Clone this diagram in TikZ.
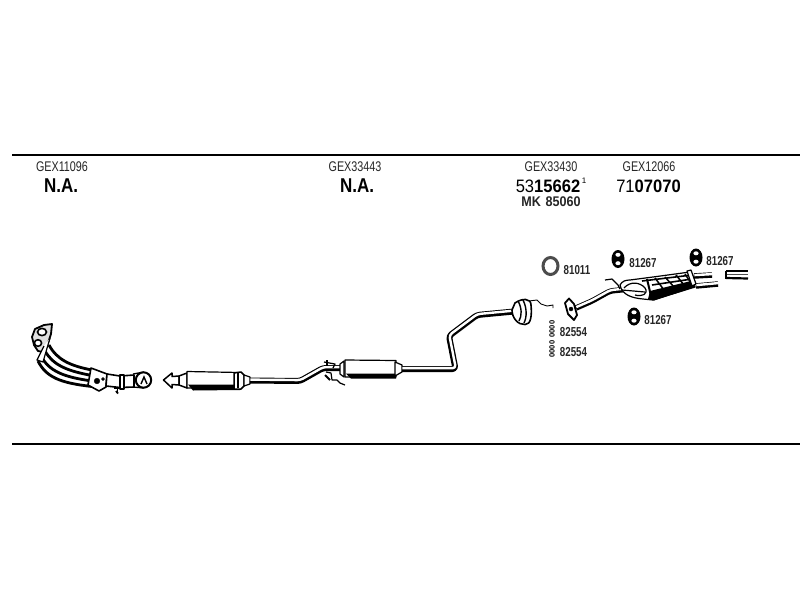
\documentclass[tikz,border=0pt]{standalone}
\usepackage{fontspec}
\setmainfont{Liberation Sans}
\usetikzlibrary{shapes.geometric}
\tikzset{
  part/.style={draw=black,line width=1.2pt,fill=white,line join=round},
  thin part/.style={draw=black,line width=0.9pt,line join=round},
  code/.style={font=\fontsize{14}{14}\selectfont,xscale=.77,inner sep=0pt,text=black!85},
  na/.style={font=\fontsize{20}{20}\selectfont\bfseries,xscale=.85,inner sep=0pt},
  big/.style={font=\fontsize{18}{18}\selectfont,xscale=.92,inner sep=0pt},
  ref/.style={font=\fontsize{13}{13}\selectfont\bfseries,xscale=.75,inner sep=0pt,text=black!85},
  vert/.style={rotate=90,inner sep=0pt,font=\fontsize{7.5}{7.5}\selectfont\bfseries},
  hanger/.style={fill=black,ellipse,inner sep=0pt,minimum width=13pt,minimum height=18pt}
}
% a pipe: dark body, light core set towards its upper edge
\newcommand{\pipeline}[2][6]{%
  \draw[line width=#1pt,black,line join=round,rounded corners=3pt] #2;
  \draw[line width=2.4pt,white,line join=round,rounded corners=3pt,yshift=.9pt,xshift=.3pt] #2;}
\begin{document}
\begin{tikzpicture}[x=1pt,y=-1pt]
\useasboundingbox (0,0) rectangle (800,600);
\fill[white] (0,0) rectangle (800,600);
% frame rules
\coordinate (ruleTL) at (12,155); \coordinate (ruleTR) at (800,155);
\coordinate (ruleBL) at (12,444); \coordinate (ruleBR) at (800,444);
\draw[line width=1.8pt] (ruleTL) -- (ruleTR);
\draw[line width=1.8pt] (ruleBL) -- (ruleBR);
% header texts
\node[code] (c1) at (62,167) {GEX11096};
\node[code] (c2) at (355,167) {GEX33443};
\node[code] (c3) at (551,167) {GEX33430};
\node[code] (c4) at (649,167) {GEX12066};
\node[na] (n1) at (61,186) {N.A.};
\node[na] (n2) at (357,186) {N.A.};
\node[big] (p1) at (548,186) {53\textbf{15662}};
\node[inner sep=0pt,font=\fontsize{8}{8}\selectfont] (p1s) at (584,181) {1};
\node[big] (p2) at (648.5,186) {71\textbf{07070}};
\node[font=\fontsize{14}{14}\selectfont\bfseries,xscale=.9,inner sep=0pt,text=black!85] (mk) at (551,202) {MK\hspace{5pt}85060};
% part numbers
\node[ref] (r1) at (577,270) {81011};
\node[ref] (r2) at (643,263) {81267};
\node[ref] (r3) at (720,261) {81267};
\node[ref] (r4) at (658,320) {81267};
\node[ref] (r5) at (573.5,332) {82554};
\node[ref] (r6) at (573.5,352) {82554};
\node[vert] (b1) at (552,329) {0000};
\node[vert] (b2) at (552,349) {0000};
% --- front pipe with manifold ---
\foreach \ya/\yb/\yc/\xa in {345/360/370/49, 351/365/375.5/45, 356/371/381/41, 361/377/386.5/38}
  \draw[line width=2.8pt] (\xa,\ya) .. controls (\xa+8,\yb) and (\xa+22,\yb+6) .. (92,\yc);
\draw[part,line width=1.8pt,fill=black!12] (32,337) -- (35,329) -- (44,325) -- (52,324) -- (51,334) -- (47,346) -- (43,352) -- (38,351) -- (34,345) -- cycle;
\draw[fill=white,draw=black,line width=1.6pt] (42,332) ellipse (4.5 and 3.6);
\draw[fill=white,draw=black,line width=1.6pt] (38,343) ellipse (3.6 and 3.3);
\draw[part] (50,338) -- (43,362) -- (37,360) -- (44,346);
\draw[part,line width=1.6pt] (91,368) -- (107,374) -- (106,387) -- (99,391) -- (88,385) -- cycle;
\draw[fill=black] (97,381) circle (2.8);
\draw[fill=black] (103,379) circle (1.5);
\draw[part,line width=1.6pt] (107,374) -- (120,376) -- (134,375) -- (134,387) -- (120,387.5) -- (106,386) -- cycle;
\draw[part] (120,375) rectangle (124,389);
\draw[thin part] (117,388) -- (117,393);
\draw[line width=2pt] (114,388) -- (121,388);
\draw[line width=1.8pt] (116,391) -- (118,393.5);
\draw[line width=1.3pt] (133,374) -- (144,372);
\draw[line width=1.3pt] (133,387) -- (144,388);
\draw[part,line width=2pt] (143.5,380) circle (7.7);
\draw[line width=1.4pt] (141,384) -- (144,377) -- (147,384);
% --- middle pipe ---
\draw[part,line width=1.5pt] (163.5,380) -- (172,373) -- (172,376.5) -- (179,376) -- (179,385) -- (172,384.5) -- (172,388) -- cycle;
\draw[part,line width=1.5pt] (179,376) -- (187,373) -- (187,388) -- (179,385) -- cycle;
\draw[part] (187,371.5) -- (240,372.5) -- (240,388) -- (187,388) -- cycle;
\fill[black] (188,384.5) -- (240,384.5) -- (240,390) -- (193,390.5) -- cycle;
\draw[part,line width=1.5pt] (234,373) -- (241,372) -- (244,375) -- (244,386) -- (241,389) -- (234,389) -- cycle;
\draw[line width=1.2pt] (238,373) -- (238,388);
\draw[part] (244,375) -- (250,377) -- (250,384) -- (244,386) -- cycle;
\pipeline{(250,380.5) -- (300,381) -- (323,368) -- (341,368)}
% clip at joint
\draw[thin part,line width=1.2pt] (324,362) -- (335,364) -- (333,368);
\draw[line width=1.2pt] (327,360) -- (327,366);
\draw[thin part,line width=1.2pt] (326,372) -- (331,373) -- (332,380) -- (337,380) -- (340,383) -- (345,385);
\draw[line width=1.8pt] (325,375) -- (330,380);
% second muffler
\draw[part] (340,364) -- (344,361) -- (344,377) -- (340,374) -- cycle;
\draw[part] (345,360) -- (396,360.5) -- (396,377) -- (345,377) -- cycle;
\fill[black] (346,373.5) -- (396,373.5) -- (396,378.5) -- (351,378.5) -- cycle;
\draw[part] (395,362) -- (402,365) -- (402,372) -- (395,376) -- cycle;
\pipeline{(402,369) -- (455.5,369) -- (449,336) -- (477,315) -- (514,311.5)}
% flange on middle pipe
\draw[part,line width=1.6pt] (515,303) .. controls (522,298) and (531,298) .. (531,305) .. controls (532,315) and (531,325) .. (525,324.5) .. controls (518,325) and (512,318) .. (512,310) -- cycle;
\draw[thin part,line width=1.4pt] (518,301) .. controls (522,308) and (522,316) .. (519,321);
\draw[thin part,line width=1.4pt] (523,300) .. controls (527,308) and (527,317) .. (524,323);
\draw[thin part] (529,301) -- (537,300) -- (541,304) -- (547,306) -- (553,305) -- (553,308);
% --- rear section ---
\pipeline[5.5]{(576,308) -- (592,301) -- (610,291) -- (630,289)}
\draw[part,line width=1.8pt] (565,303) -- (569,298.5) -- (574,304) -- (577,315) -- (574,320) -- (568,314) -- cycle;
\draw[fill=black] (571,309) circle (2);
\draw[thin part,line width=1.2pt] (605,280) -- (612,279) -- (618,285) -- (620,289);
% rear muffler
\draw[part] (620,285) .. controls (622,281) and (626,280) .. (630,280) -- (653,277) -- (690,272) -- (695,287) -- (653,300) -- (643,299) .. controls (632,298) and (622,295) .. (620,285) -- cycle;
\fill[black] (650,291) -- (695,280) -- (695,287) -- (654,300.5) -- (648,299) -- cycle;
\draw[thin part,line width=1.2pt] (624,288) .. controls (630,281) and (640,282) .. (645,288) .. controls (649,294) and (642,297) .. (635,295);
\draw[thin part,line width=1.2pt] (622,290) -- (645,292);
\draw[line width=2pt] (647,279) -- (651,296);
\foreach \xa/\xb/\ya/\yb in {655/664/278/290, 665/674/277/287, 676/684/275/285, 685/691/274/283}
  \draw[line width=1.5pt] (\xa,\ya) -- (\xb,\yb);
\draw[line width=1.6pt] (642,281) -- (692,275);
\draw[line width=1.6pt] (652,285) -- (692,279);
\draw[part] (687,271) -- (691,270) -- (696,284) -- (692,286) -- cycle;
% tail pipes
\pipeline[5.5]{(694,276) -- (712,275)}
\pipeline[5.5]{(696,286) -- (718,284)}
% small tube piece
\draw[line width=1.2pt] (726,271) -- (748,271);
\draw[line width=1.6pt,black!70] (726,274.5) -- (748,274.5);
\draw[line width=2.2pt] (726,278) -- (748,278.5);
\draw[line width=1.2pt] (726,270.5) -- (726,279);
% ring
\draw[line width=3pt,black!70] (550.5,266) ellipse (7.5 and 8.5);
% hangers
\foreach \n/\hx/\hy in {h1/618/259, h2/696/257.5, h3/634/316.5}{
  \node[hanger] (\n) at (\hx,\hy) {};
  \fill[white] (\n.center) ++(0,-4.2) ellipse (2.6 and 2);
  \fill[white] (\n.center) ++(0,4.2) ellipse (2.6 and 2);
}
\end{tikzpicture}
\end{document}
